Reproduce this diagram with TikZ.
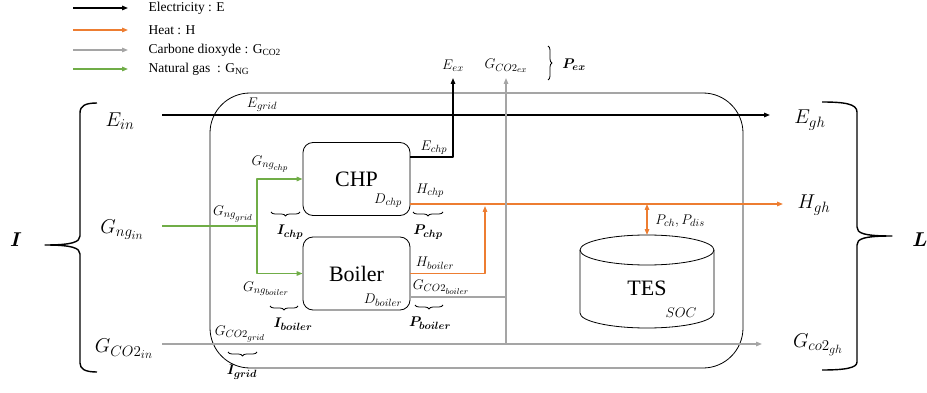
\RequirePackage{fix-cm}
\documentclass[tikz,border=0pt]{standalone}
\usepackage{amsmath,bm}
\usepackage{fontspec}
\setmainfont{Liberation Serif}
\usetikzlibrary{arrows.meta,decorations.pathreplacing}
\DeclareMathSizes{20}{20}{15}{12}
\DeclareMathSizes{14}{14}{10.5}{8.5}
\definecolor{heatc}{HTML}{ED7D31}
\definecolor{gasc}{HTML}{70AD47}
\definecolor{co2c}{HTML}{A5A5A5}
\begin{document}
\begin{tikzpicture}[x=1pt,y=-1pt,line join=round,>={Triangle[length=6pt,width=4.5pt]},
  elec/.style={line width=1.3pt,black},
  heat/.style={line width=1.3pt,heatc},
  gas/.style={line width=1.3pt,gasc},
  co2/.style={line width=1.3pt,co2c},
  box/.style={draw,line width=0.8pt,rounded corners=10pt,minimum width=107pt,minimum height=73pt,font=\fontsize{22}{24}\selectfont},
  big/.style={font=\fontsize{20}{22}\selectfont},
  sml/.style={font=\fontsize{14}{16}\selectfont},
  leg/.style={anchor=west,font=\fontsize{13.5}{15}\selectfont},
  sbrace/.style={decorate,decoration={brace,amplitude=4pt},line width=0.8pt}]
 \useasboundingbox (0,0) rectangle (927,393);
 \foreach \y/\c/\t in {8/black/{Electricity : E},30/heatc/{Heat : H},50/co2c/{Carbone dioxyde : G\textsubscript{CO2}},69/gasc/{Natural gas\ \ : G\textsubscript{NG}}}{
  \draw[line width=1.3pt,\c,->] (73,\y) -- (128,\y);
  \node[leg] at (145,\y) {\t};}
 \node[draw,rounded corners=40pt,minimum width=533pt,minimum height=275pt,line width=0.8pt] (sys) at (476.5,230.5) {};
 \node[box] (chp) at (356.5,179) {CHP};
 \node[box] (boil) at (356.5,273.5) {Boiler};
 \draw[line width=0.8pt] (580,250) -- (580,313) arc[start angle=180,end angle=360,x radius=67pt,y radius=15pt] -- (714,250);
 \draw[line width=0.8pt] (647,250) ellipse[x radius=67pt,y radius=15pt];
 \coordinate (tes) at (647,235);
 \node[font=\fontsize{22}{24}\selectfont] at (647,288) {TES};
 \node[sml] at (681,313) {$SOC$};
 \coordinate (ein) at (162,115); \coordinate (egh) at (770,115);
 \coordinate (gin) at (162,226); \coordinate (gsplit) at (257,226);
 \coordinate (cin) at (162,344); \coordinate (cgh) at (762,344);
 \coordinate (eex) at (453,78); \coordinate (cex) at (506,78); \coordinate (cjoin) at (506,297);
 \coordinate (hgh) at (783,204); \coordinate (hjoin) at (485,206); \coordinate (hch) at (647,204);
 \draw[elec,->] (ein) -- (egh);
 \draw[gas] (gin) -- (gsplit);
 \draw[gas,->] (gsplit) |- (chp.west);
 \draw[gas,->] (gsplit) |- (boil.west);
 \draw[elec,->] ([yshift=22pt]chp.east) -| (eex);
 \draw[heat,->] ([yshift=-25pt]chp.east) -- (hgh);
 \draw[heat,->] (boil.east) -| (hjoin);
 \draw[co2] ([yshift=-23.5pt]boil.east) -- (cjoin);
 \draw[co2,->] (cin) -- (cgh);
 \draw[co2,->] (cex |- cin) -- (cex);
 \draw[heat,<->] (hch) -- (tes);
 \node[big] at (120,121) {$E_{in}$};
 \node[big] at (122,230) {$G_{ng_{in}}$};
 \node[big] at (124,349) {$G_{CO2_{in}}$};
 \node[big] at (810,120) {$E_{gh}$};
 \node[big] at (814,205) {$H_{gh}$};
 \node[big] at (818,345) {$G_{co2_{gh}}$};
 \node[big] at (16,240) {$\bm{I}$};
 \node[big] at (920,240) {$\bm{L}$};
 \node[sml] at (262,105) {$E_{grid}$};
 \node[sml] at (233,214) {$G_{ng_{grid}}$};
 \node[sml] at (270,164) {$G_{ng_{chp}}$};
 \node[sml] at (266,289) {$G_{ng_{boiler}}$};
 \node[sml] at (240,334) {$G_{CO2_{grid}}$};
 \node[sml] at (388,201) {$D_{chp}$};
 \node[sml] at (383,300) {$D_{boiler}$};
 \node[sml] at (434,148) {$E_{chp}$};
 \node[sml] at (430,191) {$H_{chp}$};
 \node[sml] at (435,263) {$H_{boiler}$};
 \node[sml] at (441,287) {$G_{CO2_{boiler}}$};
 \node[sml] at (453,66) {$E_{ex}$};
 \node[sml] at (506,66) {$G_{CO2_{ex}}$};
 \node[sml] at (680,221) {$P_{ch},P_{dis}$};
 \draw[sbrace] (300,212) -- (271,212);
 \draw[sbrace] (443,212) -- (413,212);
 \draw[sbrace] (298,306) -- (270,306);
 \draw[sbrace] (443,305) -- (415,305);
 \draw[sbrace] (257,352) -- (228,352);
 \draw[sbrace] (548,46) -- (548,80);
 \node[sml] at (290,232) {$\bm{I_{chp}}$};
 \node[sml] at (428,232) {$\bm{P_{chp}}$};
 \node[sml] at (293,324) {$\bm{I_{boiler}}$};
 \node[sml] at (430,323) {$\bm{P_{boiler}}$};
 \node[sml] at (242,372) {$\bm{I_{grid}}$};
 \node[sml] at (574,65) {$\bm{P_{ex}}$};
 \draw[line width=1.4pt] (97,103) .. controls (85,103) and (80,106) .. (80,113) -- (80,236) .. controls (80,242) and (72,245) .. (45,245) .. controls (72,245) and (80,248) .. (80,254) -- (80,363) .. controls (80,369) and (85,372) .. (97,372);
 \draw[line width=1.4pt] (822,102) .. controls (845,102) and (857,104) .. (857,112) -- (857,227) .. controls (857,233) and (863,236) .. (892,236) .. controls (863,236) and (857,239) .. (857,245) -- (857,362) .. controls (857,368) and (845,370) .. (822,370);
\end{tikzpicture}
\end{document}
